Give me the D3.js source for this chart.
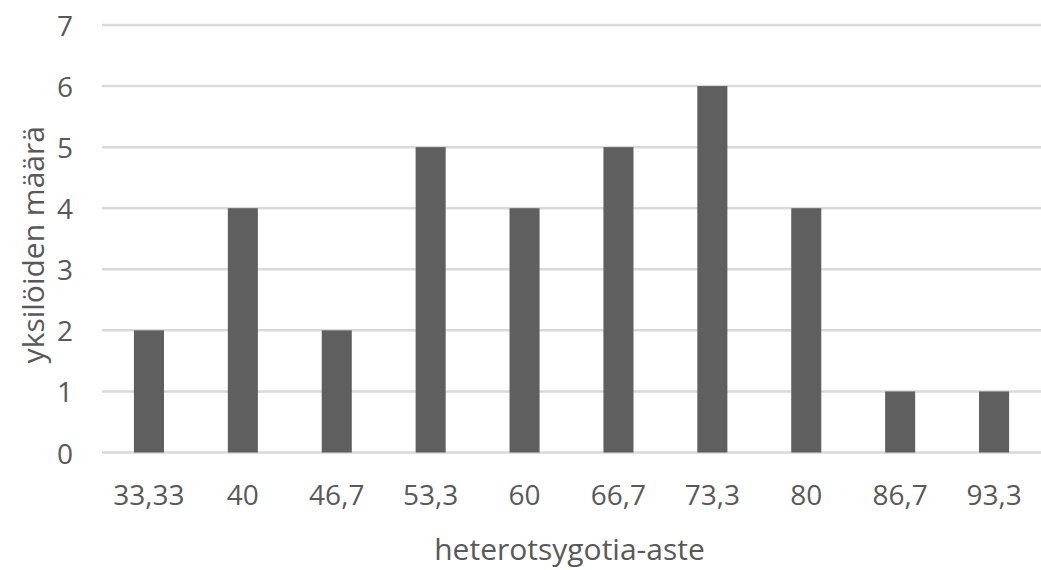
<!DOCTYPE html>
<html>
<head>
<meta charset="utf-8">
<script src="https://cdn.jsdelivr.net/npm/d3@7"></script>
<style>
  body { margin: 0; background: #fff; }
  svg { display: block; }
  text { font-family: "Open Sans", "DejaVu Sans", sans-serif; fill: #595959; }
</style>
</head>
<body>
<svg id="chart" width="1041" height="570"></svg>
<script>
const categories = ["33,33", "40", "46,7", "53,3", "60", "66,7", "73,3", "80", "86,7", "93,3"];
const counts = [2, 4, 2, 5, 4, 5, 6, 4, 1, 1];
const yTicks = [0, 1, 2, 3, 4, 5, 6, 7];
const xTitle = "heterotsygotia-aste";
const yTitle = "yksilöiden määrä";

(function () {
const svg = d3.select("#chart");
const pLeft = 102, pRight = 1041, pTop = 25, pBottom = 452.5;

const x = d3.scaleBand().domain(categories).range([pLeft, pRight])
  .paddingInner(0.68).paddingOuter(0.34);
const y = d3.scaleLinear().domain([0, 7]).range([pBottom, pTop]);

// gridlines
svg.append("g").selectAll("line").data(yTicks).join("line")
  .attr("x1", pLeft).attr("x2", pRight)
  .attr("y1", d => y(d)).attr("y2", d => y(d))
  .attr("stroke", "#d9d9d9").attr("stroke-width", 2.5);

// y tick labels
svg.append("g").selectAll("text").data(yTicks).join("text")
  .attr("x", 73).attr("y", d => y(d))
  .attr("text-anchor", "end").attr("dominant-baseline", "central")
  .style("font-size", "28px")
  .text(d => d);

// bars
svg.append("g").selectAll("rect").data(counts).join("rect")
  .attr("x", (d, i) => x(categories[i]))
  .attr("width", x.bandwidth())
  .attr("y", d => y(d))
  .attr("height", d => y(0) - y(d))
  .attr("fill", "#5f5f5f");

// x tick labels
svg.append("g").selectAll("text").data(categories).join("text")
  .attr("x", d => x(d) + x.bandwidth() / 2).attr("y", 494)
  .attr("text-anchor", "middle").attr("dominant-baseline", "central")
  .style("font-size", "28px")
  .text(d => d);

// axis titles
svg.append("text")
  .attr("x", (pLeft + pRight) / 2 - 2).attr("y", 548)
  .attr("text-anchor", "middle").attr("dominant-baseline", "central")
  .style("font-size", "30px")
  .text(xTitle);

svg.append("text")
  .attr("transform", `translate(32,${(pTop + pBottom) / 2 + 6}) rotate(-90)`)
  .attr("text-anchor", "middle").attr("dominant-baseline", "central")
  .style("font-size", "30px")
  .text(yTitle);
})();
</script>
</body>
</html>
